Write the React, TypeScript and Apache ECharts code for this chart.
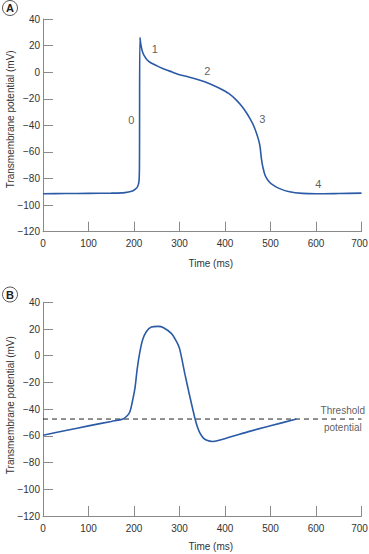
import React, { useEffect, useRef } from "react";
import * as echarts from "echarts";

// Panel A: ventricular action potential
const timeA = [0, 50, 100, 150, 180, 195, 203, 208, 211, 212, 213, 216, 220, 226, 233, 240, 255, 270, 285, 300, 320, 345, 365, 389, 408, 425, 440, 455, 465, 473, 477, 480, 483, 488, 496, 506, 520, 542, 570, 600, 650, 700];
const valuesA = [-91.5, -91.3, -91.2, -91, -90.6, -89.6, -88, -86, -82, -70, 26, 19, 14, 10.5, 8, 6.5, 4, 1.8, 0, -2, -3.6, -6, -8.5, -12.3, -16, -21, -27, -35, -42, -50, -56, -65, -71, -77.5, -82, -85, -87.6, -90, -91.2, -91.5, -91.3, -91];
const phaseLabels = ["0", "1", "2", "3", "4"];
const phaseX = [194, 246, 361, 482, 605];
const phaseY = [-36, 17.6, 1, -35, -84];

// Panel B: pacemaker potential
const timeB = [0, 50, 100, 150, 176, 185, 191, 196, 202, 207, 213, 219, 227, 238, 253, 265, 282, 292, 300, 312, 323, 334, 340, 345, 352, 360, 372, 385, 450, 500, 557];
const valuesB = [-59.5, -56, -52.5, -49.2, -47.4, -45, -41.9, -35, -24.5, -10, 3, 12, 18, 21.5, 22, 21, 16.7, 11.5, 5.5, -14, -31, -47, -54, -58, -61.5, -63.3, -64.2, -63.5, -57, -52.5, -47.4];
const thresholdValue = -47.4;
const thresholdLabel = "Threshold\npotential";
const thresholdLabelX = 659;

const yTicks = { min: -120, max: 40, interval: 20 };
const xTicks = { min: 0, max: 700, interval: 100 };

const FONT = "'Liberation Sans', Arial, sans-serif";
const FS = 10;
const BLUE = "#2b5aa6";
const AXIS = "#8a8a8a";
const TEXT = "#333";

export default function App() {
  const ref = useRef<HTMLDivElement>(null);
  useEffect(() => {
    if (!ref.current) return;
    const chart = echarts.init(ref.current, null, { renderer: "svg" });
    const minus = (v: number) => String(v).replace("-", "\u2212");
    const xFmt = (v: number) => (v === xTicks.max ? "{last|" + v + "}" : String(v));
    const mkX = (gridIndex: number, gap: number) => ({
      type: "value",
      gridIndex,
      min: xTicks.min,
      max: xTicks.max,
      interval: xTicks.interval,
      name: "Time (ms)",
      nameLocation: "middle",
      nameGap: gap,
      nameMoveOverlap: false,
      nameTextStyle: { fontFamily: FONT, fontSize: FS, color: TEXT, padding: [0, 0, 0, 17] },
      axisLine: { show: true, onZero: false, lineStyle: { color: AXIS, width: 1 } },
      axisTick: { show: true, inside: true, length: 10, lineStyle: { color: AXIS } },
      axisLabel: {
        fontFamily: FONT,
        fontSize: FS,
        color: TEXT,
        margin: 7,
        formatter: xFmt,
        rich: { last: { fontFamily: FONT, fontSize: FS, color: TEXT, padding: [0, 4, 0, 0] } },
      },
      splitLine: { show: false },
    });
    const mkY = (gridIndex: number, pad: number) => ({
      type: "value",
      gridIndex,
      min: yTicks.min,
      max: yTicks.max,
      interval: yTicks.interval,
      name: "Transmembrane potential (mV)",
      nameLocation: "middle",
      nameGap: 28,
      nameMoveOverlap: false,
      nameTextStyle: { fontFamily: FONT, fontSize: FS, color: TEXT, padding: [0, 0, 0, pad] },
      axisLine: { show: true, onZero: false, lineStyle: { color: AXIS, width: 1 } },
      axisTick: { show: true, inside: true, length: 10, lineStyle: { color: AXIS } },
      axisLabel: { fontFamily: FONT, fontSize: FS, color: TEXT, margin: 3, formatter: minus },
      splitLine: { show: false },
    });
    const circleLabel = (letter: string, cx: number, cy: number) => ({
      type: "group",
      children: [
        { type: "circle", shape: { cx, cy, r: 7.5 }, style: { fill: "#fff", stroke: "#555", lineWidth: 1 } },
        {
          type: "text",
          x: cx,
          y: cy,
          style: { text: letter, fontFamily: FONT, fontWeight: "bold", fontSize: 11, fill: "#222", align: "center", verticalAlign: "middle" },
        },
      ],
    });
    chart.setOption({
      animation: false,
      backgroundColor: "#fff",
      grid: [
        { left: 43, top: 19, width: 318.5, height: 212.7, containLabel: false, outerBoundsMode: "none" },
        { left: 43, top: 302.3, width: 318.5, height: 213.7, containLabel: false, outerBoundsMode: "none" },
      ],
      xAxis: [mkX(0, 27), mkX(1, 25)],
      yAxis: [mkY(0, 12), mkY(1, 8)],
      graphic: [circleLabel("A", 10, 8), circleLabel("B", 10, 294.5)],
      series: [
        {
          type: "line",
          xAxisIndex: 0,
          yAxisIndex: 0,
          data: timeA.map((t, i) => [t, valuesA[i]]),
          smooth: 0.3,
          showSymbol: false,
          lineStyle: { color: BLUE, width: 1.6 },
        },
        {
          type: "scatter",
          xAxisIndex: 0,
          yAxisIndex: 0,
          symbolSize: 0,
          data: phaseX.map((x, i) => ({ value: [x, phaseY[i]], name: phaseLabels[i] })),
          label: { show: true, position: "inside", formatter: (p: any) => p.name, fontFamily: FONT, fontSize: 11, color: TEXT },
          silent: true,
        },
        {
          type: "line",
          xAxisIndex: 1,
          yAxisIndex: 1,
          data: timeB.map((t, i) => [t, valuesB[i]]),
          smooth: 0.3,
          showSymbol: false,
          lineStyle: { color: BLUE, width: 1.6 },
          z: 3,
        },
        {
          type: "line",
          xAxisIndex: 1,
          yAxisIndex: 1,
          data: [[xTicks.min, thresholdValue], [xTicks.max, thresholdValue]],
          showSymbol: false,
          lineStyle: { color: "#222", width: 1, type: [5, 4] },
          z: 2,
        },
        {
          type: "scatter",
          xAxisIndex: 1,
          yAxisIndex: 1,
          symbolSize: 0,
          data: [[thresholdLabelX, thresholdValue]],
          label: { show: true, position: "inside", formatter: thresholdLabel, fontFamily: FONT, fontSize: FS, color: TEXT, lineHeight: 17, align: "center" },
          silent: true,
          z: 4,
        },
      ],
    });
    return () => chart.dispose();
  }, []);
  return <div ref={ref} style={{ position: "absolute", left: 0, top: 0, width: 369, height: 554 }} />;
}
